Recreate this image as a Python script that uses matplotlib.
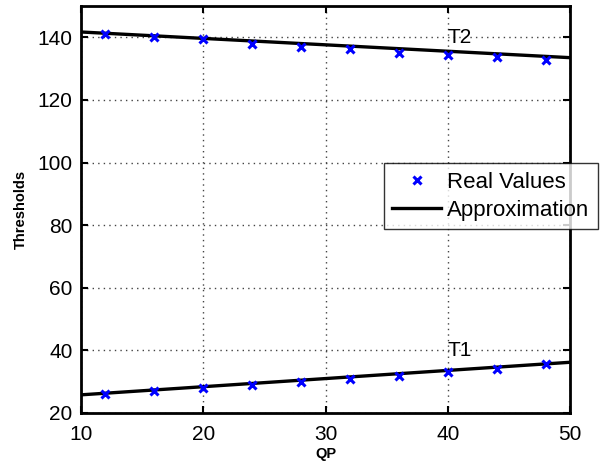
import matplotlib
matplotlib.use("Agg")
import matplotlib.pyplot as plt
import numpy as np

plt.rcParams['font.family'] = ['Liberation Sans', 'DejaVu Sans']

qp = [12, 16, 20, 24, 28, 32, 36, 40, 44, 48]
t2_real = [140.9, 140.1, 139.5, 137.8, 136.8, 136.3, 135.0, 134.5, 133.7, 132.6]
t1_real = [26.2, 26.9, 27.9, 29.1, 29.9, 31.0, 31.9, 33.2, 34.0, 35.6]
line_x = [10, 50]
t2_line = [141.7, 133.5]
t1_line = [25.8, 36.2]

fig = plt.figure(figsize=(6.11, 4.67), dpi=100)
ax = fig.add_axes([81/611, 54/467, 489/611, 407/467])

ax.plot(qp, t2_real, 'x', color='blue', markersize=5.5, mew=2.2, label='Real Values', zorder=3)
ax.plot(line_x, t2_line, '-', color='black', lw=2.4, label='Approximation', zorder=2)
ax.plot(qp, t1_real, 'x', color='blue', markersize=5.5, mew=2.2, zorder=3)
ax.plot(line_x, t1_line, '-', color='black', lw=2.4, zorder=2)

ax.text(40, 140, 'T2', fontsize=15, va='center', ha='left')
ax.text(40, 40, 'T1', fontsize=15, va='center', ha='left')

ax.set_xlim(10, 50)
ax.set_ylim(20, 150)
ax.set_xticks([10, 20, 30, 40, 50])
ax.set_yticks([20, 40, 60, 80, 100, 120, 140])
ax.tick_params(direction='in', top=True, right=True, labelsize=15, width=1.5, length=5)
ax.tick_params(axis='x', pad=9)
ax.tick_params(axis='y', pad=6)
ax.grid(True, linestyle=(0, (1, 3)), color='#444444', linewidth=1)
for s in ax.spines.values():
    s.set_linewidth(2)

ax.set_xlabel('QP', fontsize=10.5, fontweight='bold', labelpad=2)
ax.set_ylabel('Thresholds', fontsize=10.5, fontweight='bold', labelpad=7)

leg = ax.legend(loc='upper right', bbox_to_anchor=(598/611, (467-163)/467),
                bbox_transform=fig.transFigure, fontsize=16, frameon=True,
                fancybox=False, edgecolor='black', borderpad=0.4, labelspacing=0.3,
                handlelength=2.2, handletextpad=0.25, borderaxespad=0)
leg.get_frame().set_linewidth(1)

fig.savefig('out.png', dpi=100)
